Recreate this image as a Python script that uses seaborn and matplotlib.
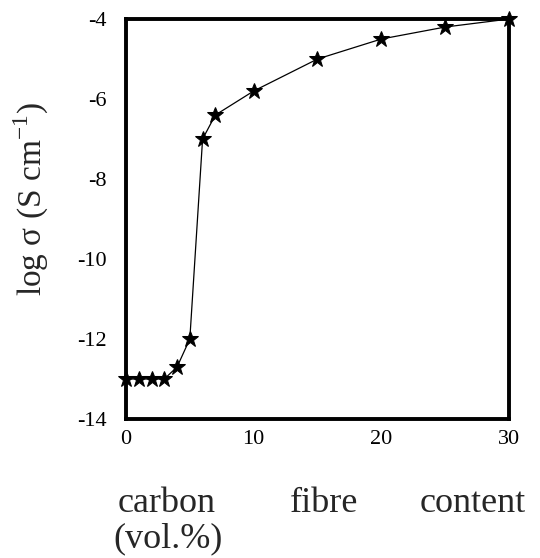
import matplotlib
matplotlib.use("Agg")
import matplotlib.pyplot as plt
import seaborn as sns
import pandas as pd

# data
carbon_fibre = [0, 1, 2, 3, 4, 5, 6, 7, 10, 15, 20, 25, 30]
log_sigma = [-13, -13, -13, -13, -12.7, -12, -7, -6.4, -5.8, -5, -4.5, -4.2, -4]
x_ticks = [0, 10, 20, 30]
y_ticks = [-14, -12, -10, -8, -6, -4]

sns.set_style("white")
plt.rcParams['font.family'] = ['Liberation Serif', 'DejaVu Serif']
plt.rcParams['axes.unicode_minus'] = False
plt.rcParams['mathtext.fontset'] = 'custom'
plt.rcParams['mathtext.rm'] = 'Liberation Serif'

df = pd.DataFrame({"x": carbon_fibre, "y": log_sigma})

fig = plt.figure(figsize=(5.4, 5.58), dpi=100)
ax = fig.add_axes([0.2333, 0.2491, 0.7093, 0.7168])

sns.lineplot(data=df, x="x", y="y", ax=ax, color="black", linewidth=0.9,
             marker="*", markersize=12, markeredgecolor="black",
             markerfacecolor="black", clip_on=False, zorder=5)

ax.set_xlim(0, 30)
ax.set_ylim(-14, -4)
ax.set_xticks(x_ticks)
ax.set_yticks(y_ticks)
ax.set_xticklabels([str(v) for v in x_ticks])
ax.set_yticklabels([str(v) for v in y_ticks])
ax.tick_params(axis="both", direction="in", length=5, width=2.5,
               labelsize=16, colors="black")
ax.tick_params(axis="x", pad=8)
ax.tick_params(axis="y", pad=14)
for s in ax.spines.values():
    s.set_visible(True)
    s.set_linewidth(2.8)
    s.set_color("black")
ax.set_xlabel("")
ax.set_ylabel("")

fig.text(0.058, 0.643, r"log σ (S cm$^{-1}$)", rotation=90, ha="center",
         va="center", fontsize=24)

yb1 = 1 - 512 / 558
yb2 = 1 - 547 / 558
fig.text(118 / 540, yb1, "carbon", ha="left", va="baseline", fontsize=26)
fig.text(290 / 540, yb1, "fibre", ha="left", va="baseline", fontsize=26)
fig.text(526 / 540, yb1, "content", ha="right", va="baseline", fontsize=26)
fig.text(113 / 540, yb2, "(vol.%)", ha="left", va="baseline", fontsize=26)

fig.savefig("out.png", dpi=100, facecolor="white")
